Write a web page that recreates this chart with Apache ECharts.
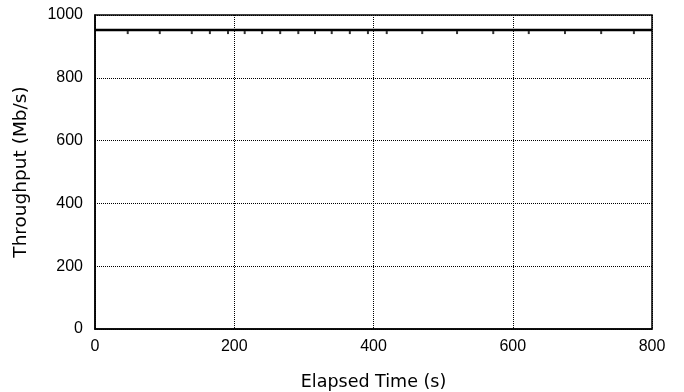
<!DOCTYPE html>
<html><head><meta charset="utf-8">
<script src="https://cdn.jsdelivr.net/npm/echarts@6/dist/echarts.min.js"></script>
<style>html,body{margin:0;padding:0;background:#fff}#c{width:684px;height:392px}</style>
</head><body><div id="c"></div>
<script>
var sampleTimes = [0, 47, 93, 139, 165, 191, 215, 240, 266, 292, 316, 340, 366, 392, 419, 470, 520, 572, 623, 675, 727, 774, 800];
var throughput = [952, 952, 952, 952, 952, 952, 952, 952, 952, 952, 952, 952, 952, 952, 952, 952, 952, 952, 952, 952, 952, 952, 952];
var markerTimes = [47, 93, 139, 165, 191, 215, 240, 266, 292, 316, 340, 366, 392, 419, 470, 520, 572, 623, 675, 727, 774];
var markerValues = [952, 952, 952, 952, 952, 952, 952, 952, 952, 952, 952, 952, 952, 952, 952, 952, 952, 952, 952, 952, 952];
var xTicks = [0, 200, 400, 600, 800];
var yTicks = [0, 200, 400, 600, 800, 1000];

var chart = echarts.init(document.getElementById('c'));
var font = 'Liberation Sans, Arial, sans-serif';
var nameFont = 'DejaVu Sans, sans-serif';
chart.setOption({
  animation: false,
  grid: {left: 95, right: 32, top: 15, bottom: 63, outerBoundsMode: 'none', containLabel: false,
         show: true, borderColor: '#000', borderWidth: 1.5, backgroundColor: '#fff'},
  xAxis: {
    type: 'value', min: 0, max: 800, interval: 200,
    name: 'Elapsed Time (s)', nameLocation: 'middle', nameGap: 44,
    nameTextStyle: {fontFamily: nameFont, fontSize: 17.5, color: '#000'},
    axisLine: {show: true, lineStyle: {color: '#000', width: 1.5}},
    axisTick: {show: false},
    axisLabel: {fontFamily: font, fontSize: 16, color: '#000', margin: 10,
      formatter: function(v){ return xTicks.indexOf(v) >= 0 ? String(v) : ''; }},
    splitLine: {show: true, lineStyle: {color: '#000', type: [1, 1], width: 1}}
  },
  yAxis: {
    type: 'value', min: 0, max: 1000, interval: 200,
    name: 'Throughput (Mb/s)', nameLocation: 'middle', nameGap: 64, nameRotate: 90,
    nameTextStyle: {fontFamily: nameFont, fontSize: 18.5, color: '#000'},
    axisLine: {show: true, lineStyle: {color: '#000', width: 1.5}},
    axisTick: {show: false},
    axisLabel: {fontFamily: font, fontSize: 16, color: '#000', margin: 12,
      formatter: function(v){ return yTicks.indexOf(v) >= 0 ? String(v) : ''; }},
    splitLine: {show: true, lineStyle: {color: '#000', type: [1, 1], width: 1}}
  },
  series: [
    {type: 'line', data: sampleTimes.map(function(t, i){ return [t, throughput[i]]; }),
     showSymbol: false, lineStyle: {color: '#000', width: 2.5}},
    {type: 'scatter', data: markerTimes.map(function(t, i){ return [t, markerValues[i]]; }),
     symbol: 'rect', symbolSize: [2, 3], symbolOffset: [0, 2.5], itemStyle: {color: '#000'}}
  ]
});
</script></body></html>
